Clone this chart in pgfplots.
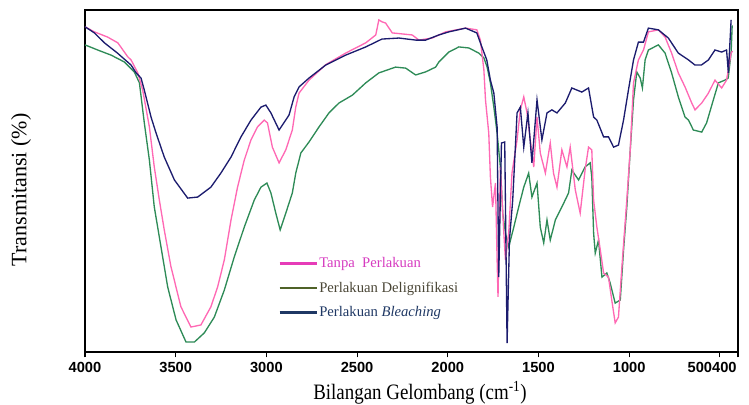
\documentclass[border=0pt]{standalone}
\usepackage{fontspec}
\setmainfont{Liberation Serif}
\setsansfont{Liberation Sans}
\usepackage{pgfplots}
\pgfplotsset{compat=1.18}

\definecolor{curvepink}{HTML}{FF69B4}
\definecolor{curvegreen}{HTML}{2E8B57}
\definecolor{curvenavy}{HTML}{1C1C6E}
\definecolor{legpink}{HTML}{E63CB8}
\definecolor{legpinktxt}{HTML}{D63CC0}
\definecolor{legolive}{HTML}{4F6228}
\definecolor{legolivetxt}{HTML}{4A4636}
\definecolor{legnavy}{HTML}{1F3864}

\begin{document}
\begin{tikzpicture}
\begin{axis}[
    scale only axis,
    width=489.75pt, height=256.5pt,
    xmin=400, xmax=4000, ymin=0, ymax=100,
    x dir=reverse,
    xtick={4000,3500,3000,2500,2000,1500,1000},
    xticklabels={4000,3500,3000,2500,2000,1500,1000},
    extra x ticks={500,400}, extra x tick labels={,500400},
    extra x tick style={xticklabel style={anchor=north east, xshift=2.5pt}},
    ytick=\empty,
    xtick pos=bottom, xtick align=outside, major tick length=4pt,
    tick style={black, line width=0.8pt},
    axis line style={line width=1pt},
    xticklabel style={font=\sffamily\bfseries\fontsize{11}{13}\selectfont},
    xlabel={\scalebox{0.86}[1]{Bilangan Gelombang (cm\textsuperscript{-1})}},
    ylabel={Transmitansi (\%)},
    label style={font=\fontsize{16.5}{19}\selectfont},
    xlabel style={at={(axis description cs:0.513,0)}, anchor=center, yshift=-30.75pt},
    ylabel style={at={(axis description cs:-0.098,0.474)}, anchor=center},
    legend style={at={(rel axis cs:0.2956,0.281)}, anchor=north west, draw=none, fill=none,
        font=\fontsize{11}{13}\selectfont, row sep=7.25pt, inner sep=0pt,
        nodes={inner sep=1pt}},
    legend cell align=left,
    legend image code/.code={\draw[#1] (0pt,0pt) -- (27.75pt,0pt);},
]
% Perlakuan Delignifikasi
\addplot[curvegreen, line width=1pt, forget plot] table {
wn T
4000 89.8
3930 88.3
3856 86.8
3783 84.8
3728 81.9
3700 78.7
3673 67.0
3645 56.1
3618 42.4
3581 30.7
3544 19.0
3498 9.4
3443 2.9
3397 2.9
3342 5.6
3287 10.2
3232 18.1
3177 27.8
3122 36.5
3067 44.4
3030 48.2
2997 49.4
2975 46.5
2948 40.6
2924 35.7
2893 40.6
2857 46.5
2838 52.3
2810 58.2
2765 61.4
2710 65.8
2655 69.9
2600 72.8
2526 75.1
2452 78.7
2380 81.6
2288 83.3
2232 83.0
2177 81.0
2122 81.9
2067 83.3
2049 84.8
1994 87.7
1939 89.2
1884 88.9
1829 87.4
1801 86.0
1783 83.3
1765 78.7
1746 71.6
1728 64.0
1710 54.1
1697 40.6
1682 34.8
1664 30.7
1636 36.5
1609 42.4
1581 48.2
1554 52.3
1536 45.3
1508 49.4
1490 36.5
1471 31.9
1453 38.6
1435 32.7
1407 38.6
1371 42.4
1334 46.5
1316 53.2
1279 50.3
1243 54.1
1215 55.3
1206 51.2
1196 34.8
1187 28.9
1169 32.7
1150 21.9
1123 23.1
1105 20.2
1077 14.3
1049 15.2
1031 29.8
1013 42.4
994 59.1
976 73.7
958 81.9
939 80.1
927 77.2
912 85.4
894 88.3
839 89.8
802 87.4
766 81.6
729 74.6
692 68.7
673 67.8
646 64.9
600 64.3
573 67.0
536 73.7
508 78.7
472 79.5
454 80.1
438 87.4
432 95.5
};
% Tanpa Perlakuan
\addplot[curvepink, line width=1pt, forget plot] table {
wn T
4000 95.1
3948 93.6
3876 92.1
3819 90.4
3764 86.3
3746 85.4
3709 81.6
3682 76.6
3645 65.8
3618 54.1
3590 44.4
3563 35.7
3526 24.9
3471 13.2
3416 7.3
3361 7.9
3306 13.2
3269 19.0
3232 26.9
3195 38.6
3159 48.2
3122 56.1
3085 62.0
3049 65.8
3012 67.8
2994 67.0
2967 59.9
2930 55.3
2893 59.1
2857 64.9
2838 71.6
2820 75.7
2765 79.5
2673 84.0
2563 87.4
2452 90.4
2397 92.7
2380 97.1
2361 96.5
2343 96.2
2306 93.3
2196 92.7
2159 91.2
2086 91.8
2012 93.6
1902 94.7
1840 94.2
1820 91.2
1801 82.5
1792 73.7
1774 64.0
1765 51.2
1753 42.4
1737 49.4
1728 26.9
1723 16.1
1710 54.1
1692 35.7
1682 26.9
1664 34.8
1646 52.3
1618 62.0
1600 70.8
1581 74.6
1563 69.9
1545 62.0
1526 54.1
1508 68.7
1490 58.2
1462 52.3
1435 61.1
1417 52.3
1398 48.2
1371 59.1
1343 54.1
1325 59.9
1297 47.4
1270 40.6
1243 53.2
1224 59.9
1206 59.1
1196 44.4
1178 36.5
1159 29.8
1141 23.1
1114 21.9
1096 15.2
1077 8.5
1059 10.2
1040 24.9
1013 44.4
994 59.1
976 78.7
949 85.4
921 88.3
894 93.6
839 94.2
802 92.1
766 87.4
729 81.6
692 77.5
655 72.8
637 70.8
600 72.8
563 75.7
527 79.5
490 77.2
463 79.5
438 87.4
430 88.0
};
% Perlakuan Bleaching
\addplot[curvenavy, line width=1pt, forget plot] table {
wn T
4000 95.1
3948 93.3
3893 90.4
3821 87.4
3746 83.9
3718 81.6
3691 80.1
3673 76.6
3636 68.7
3608 64.0
3563 57.0
3507 50.3
3434 45.0
3379 45.3
3306 48.2
3251 52.3
3195 57.0
3140 62.9
3085 67.8
3030 71.6
3003 72.2
2975 69.9
2930 64.9
2875 69.3
2847 74.6
2820 77.5
2765 80.1
2673 83.9
2563 86.8
2452 89.2
2363 91.5
2269 91.8
2177 91.2
2122 91.2
2049 92.7
1994 93.6
1902 94.7
1840 93.3
1812 89.2
1785 85.4
1765 79.5
1746 75.7
1728 65.8
1719 21.9
1704 61.1
1686 61.4
1673 2.6
1660 32.7
1642 44.4
1618 69.9
1600 71.6
1581 59.9
1558 69.9
1536 55.3
1508 73.7
1481 62.0
1453 69.9
1426 70.8
1398 69.9
1352 72.8
1316 77.2
1261 76.0
1224 77.2
1196 68.7
1178 67.8
1141 62.9
1114 62.9
1086 59.9
1059 60.5
1031 67.8
1004 76.6
976 85.4
949 90.6
921 90.6
894 94.7
839 94.2
784 91.8
729 87.4
673 85.4
637 83.9
602 83.9
563 85.4
527 88.3
490 87.7
463 88.3
453 81.6
438 97.1
};
\addlegendimage{legpink, line width=2pt}
\addlegendentry{\textcolor{legpinktxt}{Tanpa\ \ Perlakuan}}
\addlegendimage{legolive, line width=2pt}
\addlegendentry{\textcolor{legolivetxt}{Perlakuan Delignifikasi}}
\addlegendimage{legnavy, line width=2pt}
\addlegendentry{\textcolor{legnavy}{Perlakuan \textit{Bleaching}}}
\end{axis}
\pgfresetboundingbox
\path ([xshift=-63.75pt,yshift=-39.75pt]current axis.south west)
  rectangle ([xshift=8.25pt,yshift=7.5pt]current axis.north east);
\end{tikzpicture}
\end{document}
